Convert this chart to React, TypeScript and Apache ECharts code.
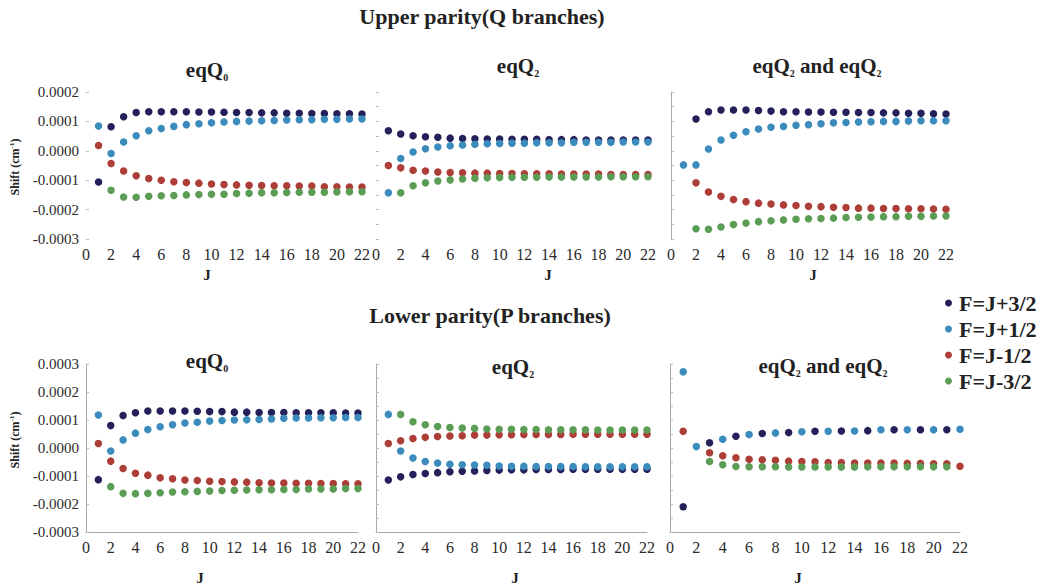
import React, { useEffect, useRef } from "react";
import * as echarts from "echarts";

// J values (x)
const J = [1, 2, 3, 4, 5, 6, 7, 8, 9, 10, 11, 12, 13, 14, 15, 16, 17, 18, 19, 20, 21, 22];
const X_TICKS = [0, 2, 4, 6, 8, 10, 12, 14, 16, 18, 20, 22];
const LEGEND_NAMES = ["F=J+3/2", "F=J+1/2", "F=J-1/2", "F=J-3/2"];
const COLORS = ["#23205a", "#3b8bbd", "#ad3d37", "#5c9d55"];

// values in units of 1e-4 cm^-1, one entry per J (null = not shown)
// Upper parity, eqQ0
const uQ0_p32 = [-1.06, 0.82, 1.16, 1.30, 1.33, 1.33, 1.33, 1.33, 1.32, 1.32, 1.31, 1.30, 1.30, 1.29, 1.29, 1.28, 1.28, 1.27, 1.27, 1.26, 1.26, 1.25];
const uQ0_p12 = [0.84, -0.09, 0.30, 0.51, 0.68, 0.76, 0.83, 0.89, 0.92, 0.95, 0.98, 1.00, 1.01, 1.02, 1.03, 1.05, 1.06, 1.06, 1.07, 1.07, 1.08, 1.08];
const uQ0_m12 = [0.18, -0.43, -0.69, -0.85, -0.94, -1.00, -1.05, -1.08, -1.10, -1.13, -1.15, -1.16, -1.17, -1.18, -1.19, -1.19, -1.20, -1.20, -1.22, -1.22, -1.23, -1.23];
const uQ0_m32 = [null, -1.34, -1.57, -1.58, -1.55, -1.53, -1.52, -1.50, -1.49, -1.48, -1.48, -1.45, -1.44, -1.43, -1.43, -1.42, -1.41, -1.41, -1.41, -1.40, -1.39, -1.39];
// Upper parity, eqQ2
const uQ2_p32 = [0.68, 0.57, 0.51, 0.48, 0.46, 0.43, 0.42, 0.41, 0.40, 0.40, 0.39, 0.39, 0.39, 0.38, 0.38, 0.38, 0.37, 0.37, 0.37, 0.37, 0.37, 0.37];
const uQ2_p12 = [-1.43, -0.26, -0.04, 0.07, 0.13, 0.17, 0.20, 0.22, 0.24, 0.25, 0.26, 0.26, 0.27, 0.27, 0.27, 0.29, 0.29, 0.29, 0.29, 0.30, 0.30, 0.30];
const uQ2_m12 = [-0.50, -0.58, -0.66, -0.69, -0.72, -0.74, -0.75, -0.76, -0.76, -0.77, -0.77, -0.78, -0.78, -0.78, -0.79, -0.79, -0.79, -0.79, -0.81, -0.81, -0.81, -0.81];
const uQ2_m32 = [null, -1.43, -1.19, -1.09, -1.03, -0.99, -0.96, -0.93, -0.92, -0.91, -0.90, -0.90, -0.90, -0.89, -0.89, -0.89, -0.89, -0.89, -0.88, -0.88, -0.88, -0.88];
// Upper parity, eqQ2 and eqQ2
const uQQ_p32 = [null, 1.08, 1.33, 1.39, 1.39, 1.39, 1.37, 1.35, 1.33, 1.33, 1.32, 1.32, 1.31, 1.31, 1.30, 1.30, 1.29, 1.29, 1.28, 1.28, 1.26, 1.25];
const uQQ_p12 = [-0.48, -0.48, 0.06, 0.37, 0.53, 0.65, 0.74, 0.80, 0.83, 0.87, 0.89, 0.92, 0.95, 0.96, 0.98, 0.99, 1.00, 1.00, 1.01, 1.02, 1.02, 1.02];
const uQQ_m12 = [null, -1.09, -1.40, -1.55, -1.66, -1.73, -1.78, -1.81, -1.84, -1.86, -1.89, -1.90, -1.92, -1.93, -1.95, -1.95, -1.96, -1.96, -1.97, -1.97, -1.98, -1.99];
const uQQ_m32 = [null, -2.65, -2.67, -2.59, -2.51, -2.46, -2.41, -2.38, -2.35, -2.33, -2.31, -2.30, -2.29, -2.27, -2.26, -2.25, -2.24, -2.24, -2.23, -2.23, -2.22, -2.22];
// Lower parity, eqQ0
const lQ0_p32 = [-1.13, 0.80, 1.16, 1.26, 1.32, 1.32, 1.32, 1.32, 1.31, 1.30, 1.30, 1.28, 1.28, 1.27, 1.27, 1.27, 1.26, 1.26, 1.26, 1.26, 1.25, 1.25];
const lQ0_p12 = [1.18, -0.11, 0.29, 0.53, 0.66, 0.76, 0.83, 0.89, 0.92, 0.96, 0.98, 1.00, 1.01, 1.02, 1.04, 1.06, 1.07, 1.07, 1.08, 1.08, 1.09, 1.09];
const lQ0_m12 = [0.16, -0.47, -0.73, -0.90, -0.97, -1.06, -1.10, -1.14, -1.16, -1.19, -1.20, -1.21, -1.22, -1.24, -1.25, -1.25, -1.26, -1.26, -1.27, -1.27, -1.28, -1.28];
const lQ0_m32 = [null, -1.38, -1.62, -1.63, -1.62, -1.60, -1.57, -1.56, -1.55, -1.54, -1.52, -1.51, -1.50, -1.49, -1.49, -1.48, -1.48, -1.46, -1.46, -1.46, -1.45, -1.45];
// Lower parity, eqQ2
const lQ2_p32 = [-1.14, -1.03, -0.95, -0.91, -0.88, -0.85, -0.83, -0.82, -0.80, -0.79, -0.78, -0.78, -0.77, -0.77, -0.77, -0.76, -0.76, -0.76, -0.76, -0.76, -0.76, -0.76];
const lQ2_p12 = [1.20, -0.11, -0.36, -0.48, -0.54, -0.58, -0.60, -0.61, -0.62, -0.64, -0.65, -0.65, -0.66, -0.66, -0.66, -0.66, -0.67, -0.67, -0.67, -0.67, -0.67, -0.67];
const lQ2_m12 = [0.16, 0.26, 0.34, 0.38, 0.41, 0.43, 0.44, 0.46, 0.46, 0.47, 0.47, 0.48, 0.48, 0.48, 0.48, 0.49, 0.49, 0.49, 0.49, 0.49, 0.49, 0.49];
const lQ2_m32 = [null, 1.20, 0.94, 0.83, 0.77, 0.73, 0.71, 0.70, 0.68, 0.67, 0.67, 0.66, 0.66, 0.65, 0.65, 0.65, 0.65, 0.64, 0.64, 0.64, 0.64, 0.64];
// Lower parity, eqQ2 and eqQ2
const lQQ_p32 = [-2.10, null, 0.19, null, 0.42, null, 0.52, null, 0.55, null, 0.60, null, 0.61, null, 0.62, null, 0.65, null, 0.65, null, 0.65, null];
const lQQ_p12 = [2.72, 0.05, null, 0.31, null, 0.48, null, 0.54, null, 0.58, null, 0.60, null, 0.61, null, 0.65, null, 0.65, null, 0.65, null, 0.67];
const lQQ_m12 = [0.60, null, -0.17, -0.28, -0.35, -0.40, -0.42, -0.44, -0.47, -0.48, -0.49, -0.52, -0.52, -0.54, -0.54, -0.54, -0.54, -0.55, -0.55, -0.56, -0.56, -0.65];
const lQQ_m32 = [null, null, -0.48, -0.60, -0.66, -0.67, -0.67, -0.67, -0.68, -0.68, -0.68, -0.68, -0.68, -0.68, -0.67, -0.67, -0.67, -0.67, -0.67, -0.67, -0.67, null];

const PANEL_DATA = [
  [uQ0_p32, uQ0_p12, uQ0_m12, uQ0_m32],
  [uQ2_p32, uQ2_p12, uQ2_m12, uQ2_m32],
  [uQQ_p32, uQQ_p12, uQQ_m12, uQQ_m32],
  [lQ0_p32, lQ0_p12, lQ0_m12, lQ0_m32],
  [lQ2_p32, lQ2_p12, lQ2_m12, lQ2_m32],
  [lQQ_p32, lQQ_p12, lQQ_m12, lQQ_m32],
];

const SERIF = "Liberation Serif";

// layout of the six panels
const PANELS = [
  { left: 86, top: 92, width: 276, height: 147, ymin: -3, ymax: 2, labels: true, axisLine: false, row: 0, jx: 207 },
  { left: 376, top: 92, width: 272, height: 147, ymin: -3, ymax: 2, labels: false, axisLine: false, row: 0, jx: 548 },
  { left: 671, top: 92, width: 275, height: 147, ymin: -3, ymax: 2, labels: false, axisLine: true, row: 0, jx: 813 },
  { left: 86, top: 364, width: 272, height: 168, ymin: -3, ymax: 3, labels: true, axisLine: true, row: 1, jx: 200 },
  { left: 376, top: 364, width: 271, height: 168, ymin: -3, ymax: 3, labels: false, axisLine: true, row: 1, jx: 515 },
  { left: 670, top: 364, width: 290, height: 168, ymin: -3, ymax: 3, labels: false, axisLine: true, row: 1, jx: 798 },
];

const TITLES = [
  { x: 207, y: 70, text: "{a|eqQ}{s|0}" },
  { x: 518, y: 66, text: "{a|eqQ}{s|2}" },
  { x: 817, y: 66, text: "{a|eqQ}{s|2}{a| and eqQ}{s|2}" },
  { x: 207, y: 361, text: "{a|eqQ}{s|0}" },
  { x: 513, y: 367, text: "{a|eqQ}{s|2}" },
  { x: 823, y: 366, text: "{a|eqQ}{s|2}{a| and eqQ}{s|2}" },
];

export default function App() {
  const ref = useRef<HTMLDivElement>(null);
  useEffect(() => {
    document.body.style.margin = "0";
    const chart = echarts.init(ref.current!, null, { renderer: "svg" });

    const grid = PANELS.map((p) => ({ left: p.left, top: p.top, width: p.width, height: p.height }));
    const xAxis = PANELS.map((p, i) => ({
      gridIndex: i,
      type: "value",
      min: X_TICKS[0],
      max: X_TICKS[X_TICKS.length - 1],
      interval: 2,
      axisLine: { show: p.row === 1, onZero: false, lineStyle: { color: "#a8a8a8", width: 1 } },
      axisTick: { show: false },
      splitLine: { show: false },
      axisLabel: { margin: 7, fontFamily: SERIF, fontSize: 16, color: "#2a2a2a" },
    }));
    const yAxis = PANELS.map((p, i) => ({
      gridIndex: i,
      type: "value",
      min: p.ymin,
      max: p.ymax,
      interval: p.labels ? 1 : 0.5,
      axisLine: { show: p.axisLine, onZero: false, lineStyle: { color: "#a8a8a8", width: 1 } },
      axisTick: { show: true, inside: true, length: 3, lineStyle: { color: "#bbb" } },
      splitLine: { show: false },
      axisLabel: {
        show: p.labels,
        fontFamily: SERIF,
        fontSize: 15,
        color: "#2a2a2a",
        margin: 7,
        formatter: (v: number) => {
          const r = v / 10000;
          return Math.abs(r) < 1e-12 ? "0.0000" : r.toFixed(4);
        },
      },
    }));

    const series: any[] = [];
    PANEL_DATA.forEach((group, i) => {
      group.forEach((vals, k) => {
        const data: number[][] = [];
        vals.forEach((v, idx) => {
          if (v !== null && v !== undefined) data.push([J[idx], v as number]);
        });
        series.push({
          type: "scatter",
          name: LEGEND_NAMES[k],
          xAxisIndex: i,
          yAxisIndex: i,
          data,
          symbolSize: 7.5,
          itemStyle: { color: COLORS[k], opacity: 1 },
        });
      });
    });

    const graphic: any[] = [];
    graphic.push({
      type: "text",
      style: { text: "Upper parity(Q branches)", x: 482, y: 16, textAlign: "center", textVerticalAlign: "middle", font: `bold 22px "${SERIF}"`, fill: "#222" },
    });
    graphic.push({
      type: "text",
      style: { text: "Lower parity(P branches)", x: 490, y: 315, textAlign: "center", textVerticalAlign: "middle", font: `bold 22px "${SERIF}"`, fill: "#222" },
    });
    TITLES.forEach((t) => {
      graphic.push({
        type: "text",
        style: {
          text: t.text,
          x: t.x,
          y: t.y,
          textAlign: "center",
          textVerticalAlign: "middle",
          fill: "#222",
          rich: {
            a: { fontFamily: SERIF, fontWeight: "bold", fontSize: 21, fill: "#222", lineHeight: 24 },
            s: { fontFamily: SERIF, fontWeight: "bold", fontSize: 10, fill: "#222", lineHeight: 24, verticalAlign: "bottom", padding: [8, 0, 0, 0] },
          },
        },
      });
    });
    PANELS.forEach((p) => {
      graphic.push({
        type: "text",
        style: {
          text: "J",
          x: p.jx,
          y: p.row === 0 ? 275 : 578,
          textAlign: "center",
          textVerticalAlign: "middle",
          font: `bold 15px "${SERIF}"`,
          fill: "#222",
        },
      });
    });
    [167, 440].forEach((cy) => {
      graphic.push({
        type: "text",
        x: 15,
        y: cy,
        rotation: Math.PI / 2,
        style: {
          text: "{a|Shift (cm}{s|-1}{a|)}",
          x: 0,
          y: 0,
          textAlign: "center",
          textVerticalAlign: "middle",
          fill: "#222",
          rich: {
            a: { fontFamily: SERIF, fontWeight: "bold", fontSize: 12, fill: "#222", lineHeight: 14 },
            s: { fontFamily: SERIF, fontWeight: "bold", fontSize: 7, fill: "#222", lineHeight: 14, verticalAlign: "top", padding: [0, 0, 5, 0] },
          },
        },
      });
    });

    chart.setOption({
      animation: false,
      backgroundColor: "#ffffff",
      textStyle: { fontFamily: SERIF },
      grid,
      xAxis,
      yAxis,
      series,
      graphic,
      legend: {
        data: LEGEND_NAMES,
        orient: "vertical",
        left: 940,
        top: 287,
        itemGap: 4,
        itemWidth: 7,
        itemHeight: 7,
        icon: "circle",
        selectedMode: false,
        textStyle: { fontFamily: SERIF, fontWeight: "bold", fontSize: 22, color: "#222", padding: [0, 0, 0, 2] },
      },
    });
    return () => chart.dispose();
  }, []);
  return <div ref={ref} style={{ width: 1045, height: 587 }} />;
}
